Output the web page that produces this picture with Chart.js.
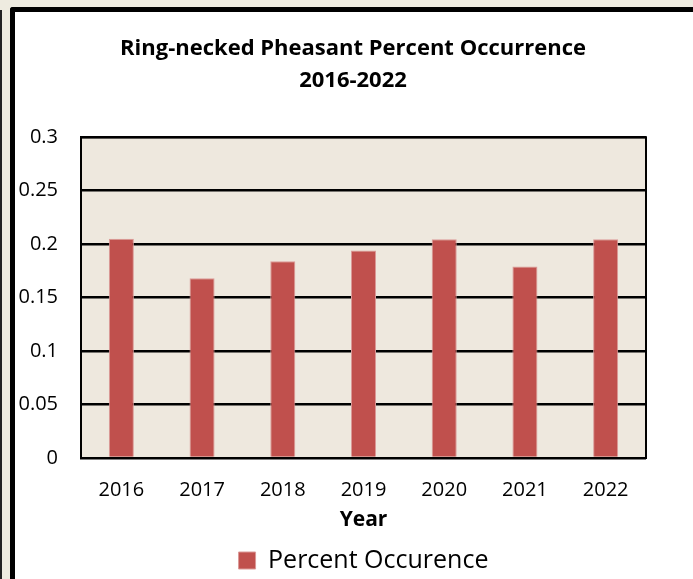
<!DOCTYPE html>
<html>
<head>
<meta charset="utf-8">
<script src="https://cdn.jsdelivr.net/npm/chart.js@4/dist/chart.umd.min.js"></script>
<style>
  html, body { margin:0; padding:0; width:693px; height:579px; overflow:hidden; background:#EEEBE0; }
  #edge { position:absolute; left:0; top:10px; width:2px; height:569px; background:#222; }
  #box { position:absolute; left:10px; top:7px; width:700px; height:600px; background:#fff;
         border-left:5px solid #000; border-top:5px solid #000; border-top-left-radius:3px; }
  #wrap { position:absolute; left:0; top:0; width:693px; height:579px; }
</style>
</head>
<body>
<div id="edge"></div>
<div id="box"></div>
<div id="wrap"><canvas id="c" width="693" height="579"></canvas></div>
<script>
const years = ['2016', '2017', '2018', '2019', '2020', '2021', '2022'];
const percentOccurrence = [0.205, 0.168, 0.184, 0.194, 0.2045, 0.179, 0.2045];
const seriesName = 'Percent Occurence';
const titleLines = ['Ring-necked Pheasant Percent Occurrence', '2016-2022'];
const xTitle = 'Year';
const yMin = 0, yMax = 0.3, yStep = 0.05;

const FONT = "'Open Sans', 'Liberation Sans', sans-serif";

const plotBg = {
  id: 'plotBg',
  beforeDraw(chart) {
    const {ctx, chartArea: a} = chart;
    ctx.save();
    ctx.fillStyle = '#EEE8DE';
    ctx.fillRect(a.left, a.top, a.right - a.left, a.bottom - a.top);
    ctx.restore();
  },
  afterDatasetsDraw(chart) {
    const {ctx, chartArea: a} = chart;
    ctx.save();
    ctx.strokeStyle = '#000';
    ctx.lineWidth = 2;
    ctx.strokeRect(a.left, a.top, a.right - a.left, a.bottom - a.top);
    ctx.restore();
  }
};

new Chart(document.getElementById('c'), {
  type: 'bar',
  data: {
    labels: years,
    datasets: [{
      label: seriesName,
      data: percentOccurrence,
      backgroundColor: '#C0504D',
      borderColor: '#DB9A98',
      borderWidth: 1,
      barPercentage: 0.62,
      categoryPercentage: 0.5
    }]
  },
  options: {
    responsive: false,
    animation: false,
    devicePixelRatio: 1,
    layout: { padding: { left: 0, right: -13, top: 0, bottom: -4 } },
    plugins: {
      title: {
        display: true,
        text: titleLines,
        color: '#000',
        font: { family: FONT, size: 22, weight: 'bold', lineHeight: 1.46 },
        padding: { top: 33, bottom: 40 }
      },
      legend: {
        display: true,
        position: 'bottom',
        fullSize: false,
        labels: {
          color: '#000',
          font: { family: FONT, size: 25 },
          boxWidth: 17,
          boxHeight: 17,
          padding: 15
        }
      },
      tooltip: { enabled: false }
    },
    scales: {
      x: {
        afterFit(scale) { scale.height = 75; },
        grid: { display: false, drawTicks: false },
        border: { display: true, color: '#000', width: 2 },
        ticks: { color: '#000', font: { family: FONT, size: 20 }, padding: 20, maxRotation: 0 },
        title: { display: true, text: xTitle, color: '#000', font: { family: FONT, size: 21, weight: 'bold' }, padding: { top: 0, bottom: 0 } }
      },
      y: {
        min: yMin, max: yMax,
        afterFit(scale) { scale.width = 81; },
        grid: { color: '#000', lineWidth: 2.5, drawTicks: false },
        border: { display: true, color: '#000', width: 2 },
        ticks: {
          stepSize: yStep,
          color: '#000',
          font: { family: FONT, size: 20 },
          padding: 23,
          callback: v => String(+Number(v).toFixed(2))
        }
      },
      yRightGap: {
        type: 'linear',
        position: 'right',
        display: true,
        afterFit(scale) { scale.width = 60; },
        grid: { display: false, drawOnChartArea: false, drawTicks: false },
        border: { display: false },
        ticks: { display: false }
      }
    }
  },
  plugins: [plotBg]
});
</script>
</body>
</html>
